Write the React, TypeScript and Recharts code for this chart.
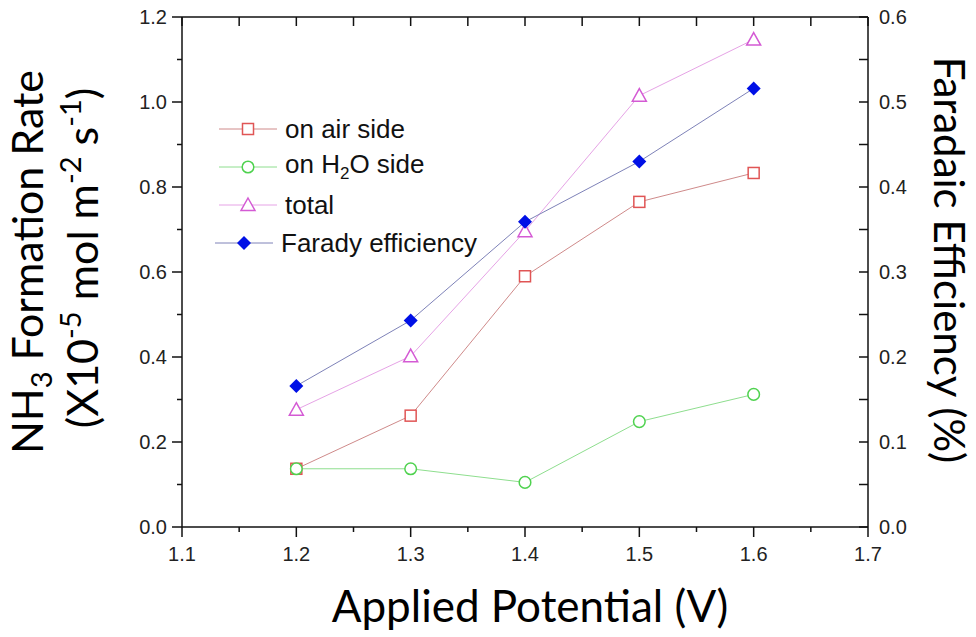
import React from "react";
import { LineChart, Line, XAxis, YAxis, Legend } from "recharts";

// Applied potential (V)
const potential = [1.2, 1.3, 1.4, 1.5, 1.6];
// NH3 formation rate (x10^-5 mol m^-2 s^-1)
const airSide = [0.137, 0.262, 0.59, 0.765, 0.833];
const waterSide = [0.137, 0.137, 0.105, 0.248, 0.312];
const total = [0.276, 0.402, 0.696, 1.015, 1.147];
// Faradaic efficiency (%)
const faradayEff = [0.166, 0.243, 0.359, 0.43, 0.516];

const xTicks = [1.1, 1.15, 1.2, 1.25, 1.3, 1.35, 1.4, 1.45, 1.5, 1.55, 1.6, 1.65, 1.7];
const leftTicks = [0, 0.1, 0.2, 0.3, 0.4, 0.5, 0.6, 0.7, 0.8, 0.9, 1.0, 1.1, 1.2];
const rightTicks = [0, 0.05, 0.1, 0.15, 0.2, 0.25, 0.3, 0.35, 0.4, 0.45, 0.5, 0.55, 0.6];

const data = potential.map((p, i) => ({
  p,
  air: airSide[i],
  water: waterSide[i],
  total: total[i],
  fe: faradayEff[i],
}));

const AXIS = "#111";
const TICK_FONT = "'Liberation Sans', Arial, sans-serif";
const TITLE_FONT = "Lato, 'Open Sans', sans-serif";
const TICK_SIZE = 20;

const isMajor = (v: number, step: number) => Math.abs(v / step - Math.round(v / step)) < 1e-6;

const BottomTick = (props: any) => {
  const { x, y, payload } = props;
  const major = isMajor(payload.value, 0.1);
  return (
    <g>
      <line x1={x} x2={x} y1={y} y2={y + (major ? 10 : 5)} stroke={AXIS} strokeWidth={1.5} />
      {major && (
        <text x={x} y={y + 34} textAnchor="middle" fontSize={TICK_SIZE} fill="#222" fontFamily={TICK_FONT}>
          {payload.value.toFixed(1)}
        </text>
      )}
    </g>
  );
};

const TopTick = (props: any) => {
  const { x, y } = props;
  return <line x1={x} x2={x} y1={y} y2={y + 9} stroke={AXIS} strokeWidth={1.5} />;
};

const LeftTick = (props: any) => {
  const { x, y, payload } = props;
  const major = isMajor(payload.value, 0.2);
  return (
    <g>
      <line x1={x} x2={x - (major ? 10 : 5)} y1={y} y2={y} stroke={AXIS} strokeWidth={1.5} />
      {major && (
        <text x={x - 15} y={y + 7} textAnchor="end" fontSize={TICK_SIZE} fill="#222" fontFamily={TICK_FONT}>
          {payload.value.toFixed(1)}
        </text>
      )}
    </g>
  );
};

const RightTick = (props: any) => {
  const { x, y, payload } = props;
  const major = isMajor(payload.value, 0.1);
  return (
    <g>
      <line x1={x} x2={x - 9} y1={y} y2={y} stroke={AXIS} strokeWidth={1.5} />
      {major && (
        <text x={x + 11} y={y + 7} textAnchor="start" fontSize={TICK_SIZE} fill="#222" fontFamily={TICK_FONT}>
          {payload.value.toFixed(1)}
        </text>
      )}
    </g>
  );
};

const Square = ({ cx, cy, stroke }: any) => (
  <rect x={cx - 5.5} y={cy - 5.5} width={11} height={11} fill="#fff" stroke={stroke} strokeWidth={1.5} />
);
const Circle = ({ cx, cy, stroke }: any) => (
  <circle cx={cx} cy={cy} r={5.8} fill="#fff" stroke={stroke} strokeWidth={1.5} />
);
const Triangle = ({ cx, cy, stroke }: any) => (
  <path
    d={`M${cx},${cy - 7} L${cx + 7},${cy + 5.5} L${cx - 7},${cy + 5.5} Z`}
    fill="#fff"
    stroke={stroke}
    strokeWidth={1.5}
  />
);
const Diamond = ({ cx, cy, fill }: any) => (
  <path d={`M${cx},${cy - 7} L${cx + 7},${cy} L${cx},${cy + 7} L${cx - 7},${cy} Z`} fill={fill} />
);

const series = [
  { key: "air", label: <>on air side</>, line: "#cf8a8a", mark: "#e05555", Marker: Square },
  {
    key: "water",
    label: (
      <>
        on H<sub style={{ fontSize: 17 }}>2</sub>O side
      </>
    ),
    line: "#8ede8e",
    mark: "#4fd24f",
    Marker: Circle,
  },
  { key: "total", label: <>total</>, line: "#e6a3e6", mark: "#d45ad4", Marker: Triangle },
  { key: "fe", label: <>Farady efficiency</>, line: "#7e82b8", mark: "#0010e6", Marker: Diamond },
];

const LegendBox = () => (
  <div style={{ fontFamily: TICK_FONT, fontSize: 26, color: "#111" }}>
    {series.map((s, i) => (
      <div key={s.key} style={{ display: "flex", alignItems: "center", height: 38, marginLeft: i === 3 ? -4 : 0 }}>
        <svg width={58} height={20} style={{ marginRight: 8, flex: "none" }}>
          <line x1={0} x2={58} y1={10} y2={10} stroke={s.line} strokeWidth={1} />
          <s.Marker cx={29} cy={10} stroke={s.mark} fill={s.mark} />
        </svg>
        <span style={{ whiteSpace: "nowrap" }}>{s.label}</span>
      </div>
    ))}
  </div>
);

const LeftTitle = () => (
  <g fontFamily={TITLE_FONT} fontSize={43} fill="#000">
    <text x={43} y={262} textAnchor="middle" transform="rotate(-90 43 262)">
      NH<tspan fontSize={29} dy={9}>3</tspan>
      <tspan dy={-9}> Formation Rate</tspan>
    </text>
    <text x={98} y={258} textAnchor="middle" transform="rotate(-90 98 258)">
      (X10<tspan fontSize={29} dy={-17}>-5</tspan>
      <tspan dy={17}> mol m</tspan>
      <tspan fontSize={29} dy={-17}>-2</tspan>
      <tspan dy={17}> s</tspan>
      <tspan fontSize={29} dy={-17}>-1</tspan>
      <tspan dy={17}>)</tspan>
    </text>
  </g>
);

const RightTitle = () => (
  <text
    x={934}
    y={260}
    textAnchor="middle"
    transform="rotate(90 934 260)"
    fontFamily={TITLE_FONT}
    fontSize={42}
    fill="#000"
  >
    Faradaic Efficiency (%)
  </text>
);

const BottomTitle = () => (
  <text x={530} y={622} textAnchor="middle" fontFamily={TITLE_FONT} fontSize={44} fill="#000">
    Applied Potential (V)
  </text>
);

export default function App() {
  return (
    <div style={{ position: "absolute", left: 0, top: 0, background: "#fff" }}>
      <LineChart width={976} height={637} data={data} margin={{ top: 0, right: 0, bottom: 0, left: 0 }}>
        <XAxis
          xAxisId="bottom"
          dataKey="p"
          type="number"
          domain={[1.1, 1.7]}
          ticks={xTicks}
          interval={0}
          height={110}
          tickSize={0}
          tickMargin={0}
          tickLine={false}
          axisLine={{ stroke: AXIS, strokeWidth: 1.5 }}
          tick={<BottomTick />}
          label={{ content: () => <BottomTitle /> }}
        />
        <XAxis
          xAxisId="top"
          orientation="top"
          dataKey="p"
          type="number"
          domain={[1.1, 1.7]}
          ticks={xTicks}
          interval={0}
          height={17}
          tickSize={0}
          tickMargin={0}
          tickLine={false}
          axisLine={{ stroke: AXIS, strokeWidth: 1.5 }}
          tick={<TopTick />}
        />
        <YAxis
          yAxisId="L"
          type="number"
          domain={[0, 1.2]}
          ticks={leftTicks}
          interval={0}
          width={182}
          tickSize={0}
          tickMargin={0}
          tickLine={false}
          axisLine={{ stroke: AXIS, strokeWidth: 1.5 }}
          tick={<LeftTick />}
          label={{ content: () => <LeftTitle /> }}
        />
        <YAxis
          yAxisId="R"
          orientation="right"
          type="number"
          domain={[0, 0.6]}
          ticks={rightTicks}
          interval={0}
          width={108}
          tickSize={0}
          tickMargin={0}
          tickLine={false}
          axisLine={{ stroke: AXIS, strokeWidth: 1.5 }}
          tick={<RightTick />}
          label={{ content: () => <RightTitle /> }}
        />
        <Legend
          layout="vertical"
          align="center"
          verticalAlign="middle"
          content={() => <LegendBox />}
          wrapperStyle={{ position: "absolute", left: 219, top: 110, width: 320 }}
        />
        {series.map((s) => (
          <Line
            key={s.key}
            xAxisId="bottom"
            yAxisId={s.key === "fe" ? "R" : "L"}
            dataKey={s.key}
            stroke={s.line}
            strokeWidth={1}
            isAnimationActive={false}
            dot={(props: any) => <s.Marker key={`${s.key}-${props.index}`} cx={props.cx} cy={props.cy} stroke={s.mark} fill={s.mark} />}
            activeDot={false}
          />
        ))}
      </LineChart>
    </div>
  );
}
